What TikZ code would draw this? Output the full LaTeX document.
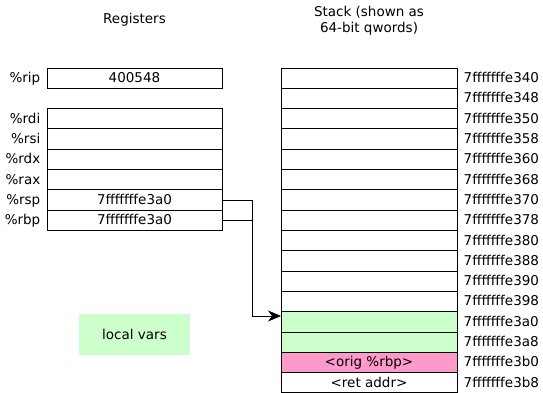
\documentclass[tikz,border=0pt]{standalone}
\usepackage{fontspec}
\setmainfont{DejaVu Sans}
\usetikzlibrary{arrows.meta,positioning}
\definecolor{localgreen}{HTML}{CCFFCC}
\definecolor{savedpink}{HTML}{FF99CC}
\begin{document}
\begin{tikzpicture}[x=1pt, y=-1pt, node distance=20.3pt, label distance=6.5pt,
    every node/.style={font=\fontsize{13.5}{15.5}\selectfont},
    every label/.style={inner sep=0pt, text height=11pt, text depth=2pt}]
    \tikzstyle{reg} = [rectangle, draw, line width=0.8pt, outer sep=0pt, minimum width=175pt, minimum height=20.3pt, inner sep=0pt, text height=11pt, text depth=2pt]
    \tikzstyle{slot} = [rectangle, draw, line width=0.8pt, outer sep=0pt, minimum width=176pt, minimum height=20.3pt, inner sep=0pt, text height=11pt, text depth=2pt]
    \useasboundingbox (0,0) rectangle (543,392.4);

    \node (regtitle) at (134.5,20) {Registers};
    \node (stacktitle) [align=center] at (369,21) {Stack (shown as\\64-bit qwords)};

    % registers
    \node (rip) [reg, label=left:{\%rip}] at (134.5,78.15) {400548};
    \node (rdi) [reg, label=left:{\%rdi}] at (134.5,118.75) {};
    \node (rsi) [reg, below of=rdi, label=left:{\%rsi}] {};
    \node (rdx) [reg, below of=rsi, label=left:{\%rdx}] {};
    \node (rax) [reg, below of=rdx, label=left:{\%rax}] {};
    \node (rsp) [reg, below of=rax, label=left:{\%rsp}] {7fffffffe3a0};
    \node (rbp) [reg, below of=rsp, label=left:{\%rbp}] {7fffffffe3a0};

    % stack slots
    \node (s340) [slot, label=right:7fffffffe340] at (369,78.15) {};
    \node (s348) [slot, below of=s340, label=right:7fffffffe348] {};
    \node (s350) [slot, below of=s348, label=right:7fffffffe350] {};
    \node (s358) [slot, below of=s350, label=right:7fffffffe358] {};
    \node (s360) [slot, below of=s358, label=right:7fffffffe360] {};
    \node (s368) [slot, below of=s360, label=right:7fffffffe368] {};
    \node (s370) [slot, below of=s368, label=right:7fffffffe370] {};
    \node (s378) [slot, below of=s370, label=right:7fffffffe378] {};
    \node (s380) [slot, below of=s378, label=right:7fffffffe380] {};
    \node (s388) [slot, below of=s380, label=right:7fffffffe388] {};
    \node (s390) [slot, below of=s388, label=right:7fffffffe390] {};
    \node (s398) [slot, below of=s390, label=right:7fffffffe398] {};
    \node (s3a0) [slot, below of=s398, fill=localgreen, label=right:7fffffffe3a0] {};
    \node (s3a8) [slot, below of=s3a0, fill=localgreen, label=right:7fffffffe3a8] {};
    \node (s3b0) [slot, below of=s3a8, fill=savedpink, label=right:7fffffffe3b0] {<orig \%rbp>};
    \node (s3b8) [slot, below of=s3b0, label=right:7fffffffe3b8] {<ret addr>};

    \node (localvars) [fill=localgreen, minimum width=111pt, minimum height=41pt] at (134.5,334.5) {local vars};

    % rsp and rbp point into the stack
    \coordinate (bend) at (252,316);
    \draw [-{Stealth[length=13pt,width=11pt,inset=4pt]}, line width=0.8pt] (rsp.east) -| (bend) -- (bend -| s3a0.west);
    \draw [line width=0.8pt] (rbp.east) -- (rbp.east -| bend);

\end{tikzpicture}
\end{document}
